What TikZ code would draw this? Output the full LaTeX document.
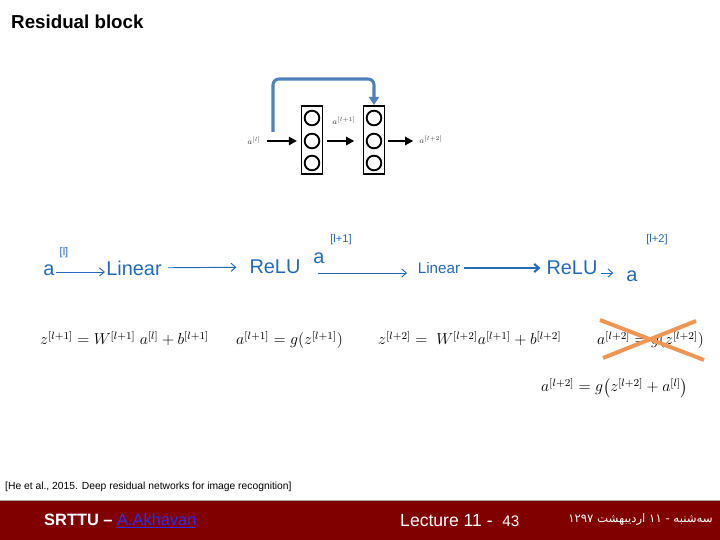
\documentclass[tikz,border=0pt]{standalone}
\usepackage{amsmath}
\usepackage{fontspec}
\setmainfont{Liberation Sans}
\newfontfamily\persianfont[Script=Arabic]{DejaVu Sans}
\TeXXeTstate=1
\usetikzlibrary{arrows.meta, positioning, calc}
\definecolor{skipblue}{RGB}{79,129,189}
\definecolor{handblue}{RGB}{35,105,185}
\definecolor{crossorange}{RGB}{238,150,82}
\definecolor{footred}{RGB}{128,0,0}
\definecolor{linkblue}{RGB}{45,45,235}
\newcommand{\eqbig}[1]{\scalebox{1.13}{#1}}
\tikzset{
	layer/.style={draw, line width=1.7pt, minimum width=0.63cm, minimum height=2.04cm, inner sep=0pt},
	unit/.style={circle, draw, line width=1.6pt, minimum size=0.44cm, inner sep=0pt},
	fwd/.style={draw, line width=1.8pt, -{Triangle[length=7pt,width=7pt]}},
	skip/.style={draw=skipblue, line width=2.6pt, rounded corners=5pt, -{Triangle[length=7pt,width=8.5pt]}},
	actlabel/.style={font=\fontsize{7.5}{9}\selectfont, text=black!75, inner sep=1pt},
	hand/.style={text=handblue, font=\fontsize{17}{20}\selectfont, inner sep=1pt},
	handsup/.style={text=handblue, font=\fontsize{9.5}{11}\selectfont, inner sep=0pt},
	handarrow/.style={draw=handblue, line width=0.8pt, -{Straight Barb[length=4pt,width=7pt]}},
	eq/.style={anchor=base west, inner sep=0pt, font=\fontsize{12}{14}\selectfont},
	cross/.style={draw=crossorange, line width=3.4pt},
	foot/.style={text=white, font=\fontsize{14}{16}\selectfont, inner sep=0pt}
}

\begin{document}
\begin{tikzpicture}[
    % one unit is one pixel of the slide
    x=0.03cm, y=-0.03cm
]
\useasboundingbox (0,0) rectangle (720,540);

% --- TITLE ---
\node[anchor=west, inner sep=0pt, font=\fontsize{16}{19}\selectfont\bfseries] (title) at (11,22) {Residual block};

% --- NETWORK: two layers and the skip connection ---
\node[layer] (L1) at (312,140) {};
\node[layer] (L2) at (374,140) {};
\foreach \k/\dy in {1/-22,2/1,3/23} {
    \node[unit] (u1\k) at ($(L1)+(0,\dy)$) {};
    \node[unit] (u2\k) at ($(L2)+(0,\dy)$) {};
}

\node[actlabel] (al) at (254,141) {$a^{[l]}$};
\node[actlabel] (alone) at (344,121) {$a^{[l+1]}$};
\node[actlabel] (altwo) at (431,140) {$a^{[l+2]}$};

\draw[fwd, shorten <=4pt, shorten >=3pt] (al.east) -- (al.east -| L1.west);
\draw[fwd, shorten <=3pt, shorten >=7pt] (L1.east |- al.east) -- (L2.west |- al.east);
\draw[fwd, shorten <=2pt, shorten >=4pt] (L2.east |- al.east) -- (altwo.west |- al.east);

% skip path from a^[l] over to the second layer
\coordinate (skipstart) at (273,132);
\coordinate (skiptop) at (273,79);
\draw[skip] (skipstart) -- (skiptop) -- (L2.north |- skiptop) -- (L2.north);

% --- HANDWRITTEN CHAIN ---
\node[hand] (ha0) at (49,270) {a};
\node[handsup] (ha0sup) at (64,253) {[l]};
\node[hand] (lin1) at (134,268) {Linear};
\node[hand] (relu1) at (275,267) {ReLU};
\node[hand] (ha1) at (319,258) {a};
\node[handsup] (ha1sup) at (341,240) {[l+1]};
\node[hand, font=\fontsize{13}{15}\selectfont] (lin2) at (439,268) {Linear};
\node[hand] (relu2) at (572,268) {ReLU};
\node[hand] (ha2) at (632,276) {a};
\node[handsup] (ha2sup) at (657,240) {[l+2]};

\coordinate (midstart) at (318,273);
\draw[handarrow] (ha0.east |- 0,272) -- (lin1.west |- 0,272);
\draw[handarrow, shorten <=4pt, shorten >=10pt] (lin1) -- (relu1);
\draw[handarrow, shorten >=8pt] (midstart) -- (midstart -| lin2.west);
\draw[handarrow, line width=1.8pt, shorten <=2pt, shorten >=4pt] (lin2) -- (relu2);
\draw[handarrow, shorten <=2pt, shorten >=10pt] (relu2.east |- 0,273) -- (ha2.west |- 0,273);

% --- EQUATIONS ---
\node[eq] (eq1) at (40,345) {\eqbig{$z^{[l+1]} = W^{[l+1]}\; a^{[l]} + b^{[l+1]}$}};
\node[eq] (eq2) at (236,345) {\eqbig{$a^{[l+1]} = g(z^{[l+1]})$}};
\node[eq] (eq3) at (378,345) {\eqbig{$z^{[l+2]} = \;W^{[l+2]}a^{[l+1]} + b^{[l+2]}$}};
\node[eq] (eq4) at (597,345) {\eqbig{$a^{[l+2]} = g(z^{[l+2]})$}};
\node[eq] (eq5) at (541,392) {\eqbig{$a^{[l+2]} = g\bigl(z^{[l+2]} + a^{[l]}\bigr)$}};

% crossed out
\draw[cross] (600,320) -- (704,360);
\draw[cross] (696,321) -- (603,358);

% --- REFERENCE ---
\node[anchor=west, inner sep=0pt, font=\fontsize{8.8}{10}\selectfont] (cite) at (5,487)
    {[He et al., 2015. Deep residual networks for image recognition]};

% --- FOOTER ---
\fill[footred] (0,500) rectangle (720,540);
\draw[black!35, line width=0.8pt] (0,500) -- (720,500);
\node[foot, anchor=west] (author) at (44,521)
    {\textbf{SRTTU –} \textcolor{linkblue}{\underline{A.Akhavan}}};
\node[foot, anchor=west, font=\fontsize{15}{17}\selectfont] (lecture) at (400,521)
    {Lecture 11 -\ \ {\fontsize{13}{15}\selectfont 43}};
\node[foot, anchor=east, font=\fontsize{10}{12}\selectfont] (date) at (713,519)
    {\persianfont\beginR سه‌شنبه - \beginL۱۱\endL{} اردیبهشت \beginL۱۲۹۷\endL\endR};

\end{tikzpicture}
\end{document}
